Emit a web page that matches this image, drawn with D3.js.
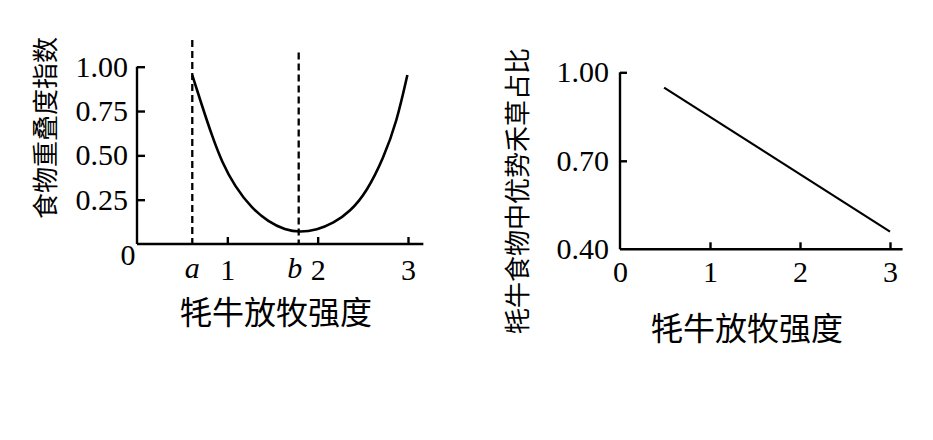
<!DOCTYPE html>
<html>
<head>
<meta charset="utf-8">
<script src="https://cdn.jsdelivr.net/npm/d3@7"></script>
<style>
  body { margin: 0; background: #fff; }
  svg { display: block; }
  .tick text, .num { font-family: "Liberation Serif", "DejaVu Serif", serif; font-size: 30px; fill: #000; }
  .cjk { font-family: "Noto Sans CJK SC", sans-serif; fill: #000; }
</style>
</head>
<body>
<svg id="chart" width="933" height="440"></svg>
<script>
// left chart: food overlap index vs yak grazing intensity
const overlapX = [0.612, 0.717, 0.827, 0.938, 1.085, 1.270, 1.454, 1.639, 1.805, 1.990, 2.174, 2.359, 2.544, 2.728, 2.876, 2.993]
const overlapY = [0.953, 0.784, 0.615, 0.464, 0.323, 0.201, 0.126, 0.079, 0.066, 0.079, 0.117, 0.182, 0.295, 0.483, 0.690, 0.953]
const markA = 0.612
const markB = 1.79
const markTops = [1.15, 1.08] // dashed line tops in y units
const leftYTicks = [0.25, 0.5, 0.75, 1.0]
const leftXTicks = [1, 2, 3]

// right chart: dominant grass share in yak diet
const shareX = [0.49, 3.0]
const shareY = [0.948, 0.46]
const rightYTicks = [0.4, 0.7, 1.0]
const rightXTicks = [0, 1, 2, 3]

const svg = d3.select('#chart')

// ---- left chart ----
const xL = d3.scaleLinear().domain([0, 3]).range([137, 408])
const yL = d3.scaleLinear().domain([0, 1]).range([244, 66.7])

svg.append('g')
  .attr('transform', `translate(0,${yL(0)})`)
  .call(d3.axisBottom(xL).tickValues(leftXTicks).tickFormat(d3.format('d')).tickSizeInner(-7).tickSizeOuter(0).tickPadding(15))
  .call(g => g.select('.domain').attr('d', `M${xL(0)},0H${xL(3.17)}`))

svg.append('g')
  .attr('transform', `translate(${xL(0)},0)`)
  .call(d3.axisLeft(yL).tickValues(leftYTicks).tickFormat(d3.format('.2f')).tickSizeInner(-8).tickSizeOuter(0).tickPadding(9))
  .call(g => g.select('.domain').attr('d', `M0,${yL(0)}V${yL(1)}`))

svg.append('text').attr('class', 'num')
  .attr('x', xL(0) - 9).attr('y', 265).attr('text-anchor', 'middle').text('0')

// a / b labels
svg.append('text').attr('class', 'num').attr('font-style', 'italic')
  .attr('x', xL(markA)).attr('y', 278).attr('text-anchor', 'middle').text('a')
svg.append('text').attr('class', 'num').attr('font-style', 'italic')
  .attr('x', xL(markB) - 4).attr('y', 278).attr('text-anchor', 'middle').text('b')

// dashed guides
;[markA, markB].forEach((m, i) => {
  svg.append('line')
    .attr('x1', xL(m)).attr('x2', xL(m))
    .attr('y1', yL(markTops[i])).attr('y2', yL(0))
    .attr('stroke', '#000').attr('stroke-width', 2.3)
    .attr('stroke-dasharray', '7,4')
})

const overlapData = overlapX.map((x, i) => [x, overlapY[i]])
svg.append('path')
  .datum(overlapData)
  .attr('fill', 'none')
  .attr('stroke', '#000')
  .attr('stroke-width', 2.6)
  .attr('d', d3.line().x(d => xL(d[0])).y(d => yL(d[1])).curve(d3.curveBasis))

svg.append('text').attr('class', 'cjk')
  .attr('transform', 'translate(43,128) rotate(-90)')
  .attr('text-anchor', 'middle').attr('dominant-baseline', 'central')
  .attr('font-size', 26).text('食物重叠度指数')

svg.append('text').attr('class', 'cjk')
  .attr('x', 276).attr('y', 310)
  .attr('text-anchor', 'middle').attr('dominant-baseline', 'central')
  .attr('font-size', 32).text('牦牛放牧强度')

// ---- right chart ----
const xR = d3.scaleLinear().domain([0, 3]).range([620, 890])
const yR = d3.scaleLinear().domain([0.4, 1.0]).range([249.3, 72.3])

const gxR = svg.append('g')
  .attr('transform', `translate(0,${yR(0.4)})`)
  .call(d3.axisBottom(xR).tickValues(rightXTicks).tickFormat(d3.format('d')).tickSizeInner(-7).tickSizeOuter(0).tickPadding(11))
  .call(g => g.select('.domain').attr('d', `M${xR(0)},0H${xR(3.14)}`))

const gyR = svg.append('g')
  .attr('transform', `translate(${xR(0)},0)`)
  .call(d3.axisLeft(yR).tickValues(rightYTicks).tickFormat(d3.format('.2f')).tickSizeInner(-7).tickSizeOuter(0).tickPadding(11))
  .call(g => g.select('.domain').attr('d', `M0,${yR(0.4)}V${yR(1)}`))

gxR.selectAll('.tick line').filter(d => d === 0).remove()
gyR.selectAll('.tick line').filter(d => d === 0.4).remove()
svg.selectAll('.domain, .tick line').attr('stroke', '#000').attr('stroke-width', 2.4)

const shareData = shareX.map((x, i) => [x, shareY[i]])
svg.append('path')
  .datum(shareData)
  .attr('fill', 'none')
  .attr('stroke', '#000')
  .attr('stroke-width', 2.2)
  .attr('d', d3.line().x(d => xR(d[0])).y(d => yR(d[1])))

svg.append('text').attr('class', 'cjk')
  .attr('transform', 'translate(515,191) rotate(-90)')
  .attr('text-anchor', 'middle').attr('dominant-baseline', 'central')
  .attr('font-size', 26).text('牦牛食物中优势禾草占比')

svg.append('text').attr('class', 'cjk')
  .attr('x', 747).attr('y', 326)
  .attr('text-anchor', 'middle').attr('dominant-baseline', 'central')
  .attr('font-size', 32).text('牦牛放牧强度')
</script>
</body>
</html>
